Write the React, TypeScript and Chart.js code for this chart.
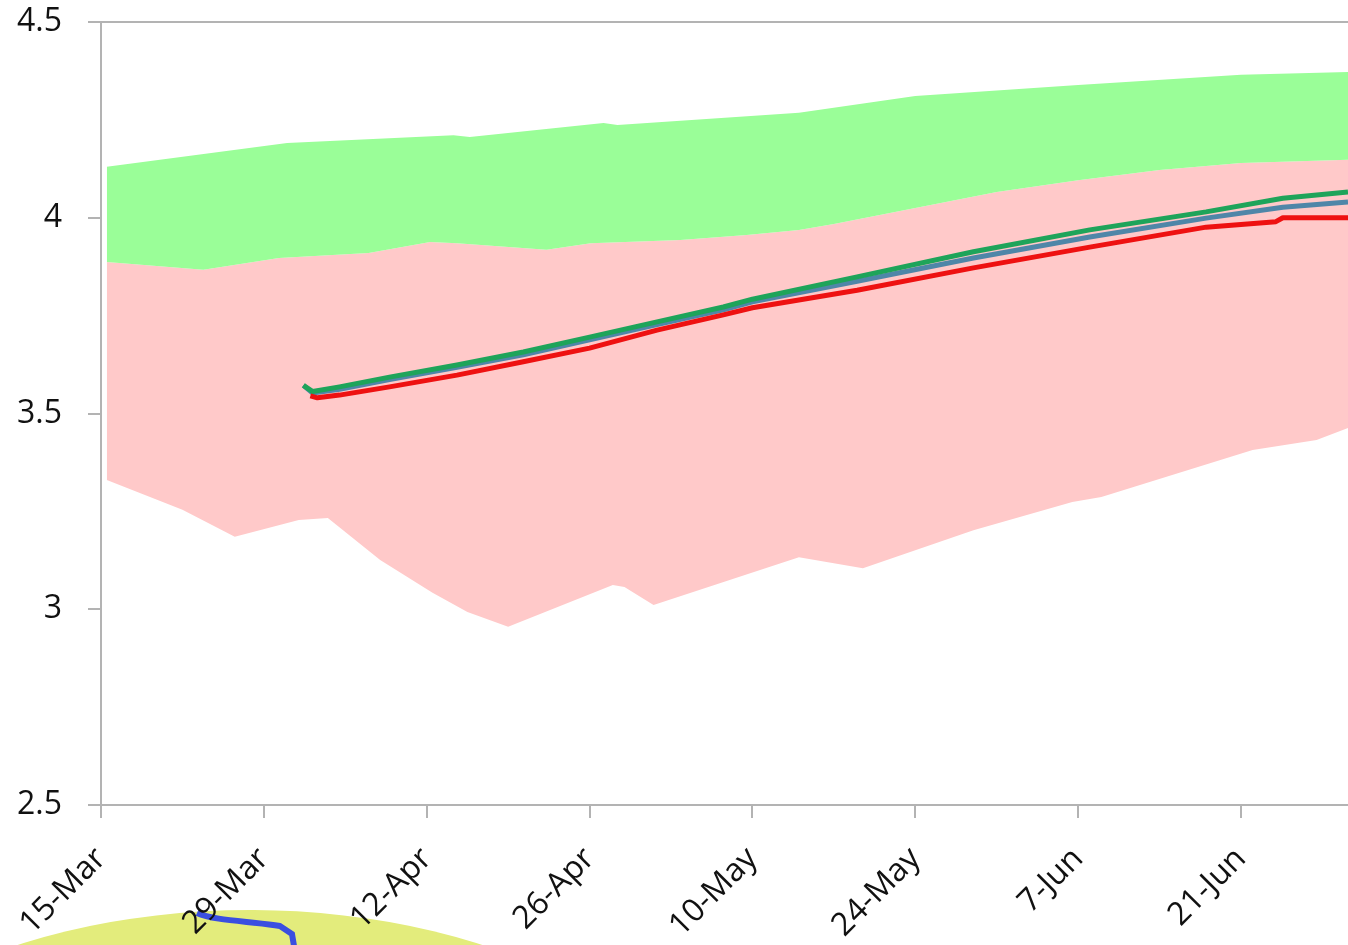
import React, { useEffect, useRef } from "react";
import { Chart, registerables } from "chart.js";

Chart.register(...registerables);

// x values are days counted from 15-Mar
const tickDays = [0, 14, 28, 42, 56, 70, 84, 98];
const tickLabels = ["15-Mar", "29-Mar", "12-Apr", "26-Apr", "10-May", "24-May", "7-Jun", "21-Jun"];
const yTickValues = [2.5, 3, 3.5, 4, 4.5];
const yTickLabels = ["2.5", "3", "3.5", "4", "4.5"];

// lower edge of the pink band
const lowerDays = [0.5, 7, 11.5, 17, 19.5, 24, 28.5, 31.5, 35, 44, 45, 47.5, 60, 65.5, 75, 83.5, 86, 99, 104.5, 107.2];
const lowerValues = [3.33, 3.254, 3.185, 3.228, 3.233, 3.126, 3.042, 2.993, 2.955, 3.062, 3.057, 3.011, 3.133, 3.105, 3.202, 3.274, 3.287, 3.407, 3.432, 3.463];

// pink / green boundary
const midDays = [0.5, 8.8, 15.3, 23, 28.3, 30.6, 38.3, 42.1, 49.8, 55.5, 60, 63, 70, 77, 84, 91, 98, 107.2];
const midValues = [3.887, 3.867, 3.897, 3.91, 3.938, 3.935, 3.918, 3.935, 3.943, 3.956, 3.969, 3.984, 4.025, 4.066, 4.096, 4.122, 4.14, 4.148];

// upper edge of the green band
const upperDays = [0.5, 16, 30.3, 31.7, 43.2, 44.4, 60, 70, 84, 98, 107.2];
const upperValues = [4.13, 4.191, 4.211, 4.206, 4.242, 4.237, 4.268, 4.311, 4.339, 4.365, 4.372];

// forecast lines
const greenDays = [17.4, 18.2, 20.5, 24.8, 30.6, 36.3, 42, 47.8, 53.5, 56, 65, 75, 85, 95, 101.6, 107.2];
const greenValues = [3.572, 3.556, 3.568, 3.593, 3.624, 3.657, 3.695, 3.734, 3.772, 3.792, 3.849, 3.913, 3.969, 4.015, 4.05, 4.066];

const blueDays = [17.4, 18.2, 20.5, 24.8, 30.6, 36.3, 42, 47.8, 53.5, 56, 65, 75, 85, 95, 101.6, 107.2];
const blueValues = [3.572, 3.552, 3.562, 3.587, 3.618, 3.65, 3.688, 3.727, 3.765, 3.785, 3.838, 3.897, 3.951, 3.999, 4.027, 4.04];

const redDays = [18, 18.6, 20.5, 24.8, 30.6, 36.3, 42, 47.8, 53.5, 56, 65, 75, 85, 95, 101, 101.6, 107.2];
const redValues = [3.545, 3.54, 3.547, 3.568, 3.598, 3.632, 3.667, 3.713, 3.752, 3.77, 3.815, 3.872, 3.925, 3.976, 3.99, 4.0, 4.0];

const zip = (xs: number[], ys: number[]) => xs.map((x, i) => ({ x, y: ys[i] }));

const FONT = "'Open Sans', Lato, sans-serif";
const AXIS_GREY = "#b3b3b3";
const TEXT = "#111111";

export default function App() {
  const ref = useRef<HTMLCanvasElement | null>(null);

  useEffect(() => {
    if (!ref.current) return;
    const chart = new Chart(ref.current, {
      type: "line",
      data: {
        datasets: [
          {
            label: "lower",
            data: zip(lowerDays, lowerValues),
            borderWidth: 0,
            borderColor: "rgba(0,0,0,0)",
            pointRadius: 0,
            fill: false,
            order: 5,
          },
          {
            label: "middle",
            data: zip(midDays, midValues),
            borderWidth: 0,
            borderColor: "rgba(0,0,0,0)",
            backgroundColor: "#ffc9c9",
            pointRadius: 0,
            fill: "-1",
            order: 4,
          },
          {
            label: "upper",
            data: zip(upperDays, upperValues),
            borderWidth: 0,
            borderColor: "rgba(0,0,0,0)",
            backgroundColor: "#9afe98",
            pointRadius: 0,
            fill: "-1",
            order: 3,
          },
          {
            label: "blue",
            data: zip(blueDays, blueValues),
            borderColor: "#4f86a8",
            borderWidth: 5,
            pointRadius: 0,
            fill: false,
            order: 2,
          },
          {
            label: "green",
            data: zip(greenDays, greenValues),
            borderColor: "#1ea45a",
            borderWidth: 5,
            pointRadius: 0,
            fill: false,
            order: 1,
          },
          {
            label: "red",
            data: zip(redDays, redValues),
            borderColor: "#ee1111",
            borderWidth: 5,
            pointRadius: 0,
            fill: false,
            order: 0,
          },
        ],
      },
      options: {
        animation: false,
        responsive: false,
        maintainAspectRatio: false,
        layout: { padding: { left: 0, right: 0, top: 22, bottom: 0 } },
        plugins: {
          legend: { display: false },
          tooltip: { enabled: false },
          title: { display: false },
        },
        elements: { line: { tension: 0, borderJoinStyle: "round" } },
        scales: {
          x: {
            type: "linear",
            position: "bottom",
            min: 0,
            max: 107.2,
            afterBuildTicks: (axis: any) => {
              axis.ticks = tickDays.map((v) => ({ value: v }));
            },
            afterFit: (axis: any) => {
              axis.height = 140;
              axis.paddingLeft = 0;
              axis.paddingRight = 0;
            },
            ticks: {
              autoSkip: false,
              maxRotation: 45,
              minRotation: 45,
              padding: 22,
              color: TEXT,
              font: { family: FONT, size: 32 },
              callback: (v: any) => {
                const i = tickDays.indexOf(Number(v));
                return i >= 0 ? tickLabels[i] : "";
              },
            },
            grid: {
              drawOnChartArea: false,
              drawTicks: true,
              tickLength: 13,
              color: AXIS_GREY,
              lineWidth: 2,
            },
            border: { display: true, color: AXIS_GREY, width: 2 },
          },
          x2: {
            type: "linear",
            position: "top",
            min: 0,
            max: 107.2,
            afterFit: (axis: any) => {
              axis.height = 0;
              axis.paddingLeft = 0;
              axis.paddingRight = 0;
            },
            ticks: { display: false },
            grid: { display: false, drawTicks: false },
            border: { display: true, color: AXIS_GREY, width: 2 },
          },
          y: {
            type: "linear",
            min: 2.5,
            max: 4.5,
            afterBuildTicks: (axis: any) => {
              axis.ticks = yTickValues.map((v) => ({ value: v }));
            },
            afterFit: (axis: any) => {
              axis.width = 101;
              axis.paddingTop = 0;
              axis.paddingBottom = 0;
            },
            ticks: {
              padding: 26,
              color: TEXT,
              font: { family: FONT, size: 32 },
              callback: (v: any) => {
                const i = yTickValues.indexOf(Number(v));
                return i >= 0 ? yTickLabels[i] : "";
              },
            },
            grid: {
              drawOnChartArea: false,
              drawTicks: true,
              tickLength: 13,
              color: AXIS_GREY,
              lineWidth: 2,
            },
            border: { display: true, color: AXIS_GREY, width: 2 },
          },
        },
      },
    } as any);
    return () => chart.destroy();
  }, []);

  return (
    <div style={{ position: "absolute", left: 0, top: 0, width: 1348, height: 945, overflow: "hidden", background: "#ffffff" }}>
      <svg
        width={1348}
        height={945}
        style={{ position: "absolute", left: 0, top: 0 }}
      >
        <ellipse cx={250} cy={1190} rx={480} ry={280} fill="#e3ec7c" />
        <path
          d="M 197 913 C 215 921, 250 921, 280 926 L 292 934 L 294 946"
          stroke="#3a4fe0"
          strokeWidth={6}
          fill="none"
        />
      </svg>
      <canvas
        ref={ref}
        width={1348}
        height={945}
        style={{ position: "absolute", left: 0, top: 0, width: 1348, height: 945 }}
      />
    </div>
  );
}
